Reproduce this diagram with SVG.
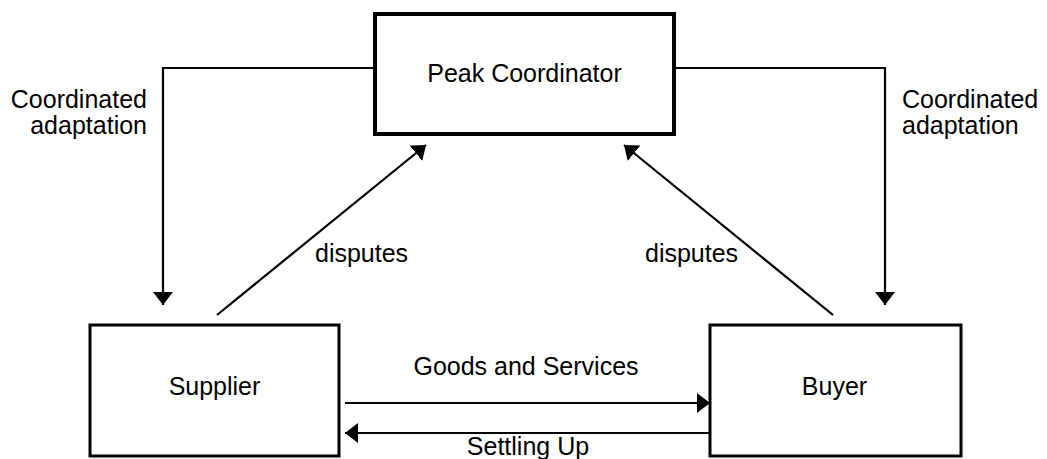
<svg xmlns="http://www.w3.org/2000/svg" width="1047" height="459" viewBox="0 0 1047 459">
<style>
.box{fill:#fff;stroke:#000}
.t{font-family:"Liberation Sans",Arial,sans-serif;font-size:25px;fill:#000}
.c{fill:none;stroke:#000;stroke-width:2.2}
</style>
<defs>
<marker id="ah" markerUnits="userSpaceOnUse" markerWidth="14" markerHeight="20" refX="13" refY="10" orient="auto">
<path d="M0,0 L13,10 L0,20 z" fill="#000"/>
</marker>
</defs>
<g id="connectors">
<path class="c" d="M375,68 H163 V305" marker-end="url(#ah)"/>
<path class="c" d="M674,68 H885 V305" marker-end="url(#ah)"/>
<path class="c" d="M217,315 L426,145" marker-end="url(#ah)"/>
<path class="c" d="M833,315 L624,145" marker-end="url(#ah)"/>
<path class="c" d="M345,403 L710,403" marker-end="url(#ah)"/>
<path class="c" d="M710,433 L345,433" marker-end="url(#ah)"/>
<text class="t" x="147" y="108" text-anchor="end">Coordinated</text>
<text class="t" x="147" y="134" text-anchor="end">adaptation</text>
<text class="t" x="902" y="108">Coordinated</text>
<text class="t" x="902" y="134">adaptation</text>
<text class="t" x="315" y="262">disputes</text>
<text class="t" x="645" y="262">disputes</text>
<text class="t" x="526" y="375" text-anchor="middle">Goods and Services</text>
<text class="t" x="528" y="455" text-anchor="middle">Settling Up</text>
</g>
<g id="peak">
<rect class="box" x="375" y="14" width="299" height="120" stroke-width="4"/>
<text class="t" x="524.5" y="82" text-anchor="middle">Peak Coordinator</text>
</g>
<g id="supplier">
<rect class="box" x="90" y="325" width="249" height="131" stroke-width="3"/>
<text class="t" x="214.5" y="395" text-anchor="middle">Supplier</text>
</g>
<g id="buyer">
<rect class="box" x="710" y="325" width="251" height="131" stroke-width="3"/>
<text class="t" x="834.5" y="395" text-anchor="middle">Buyer</text>
</g>
</svg>
